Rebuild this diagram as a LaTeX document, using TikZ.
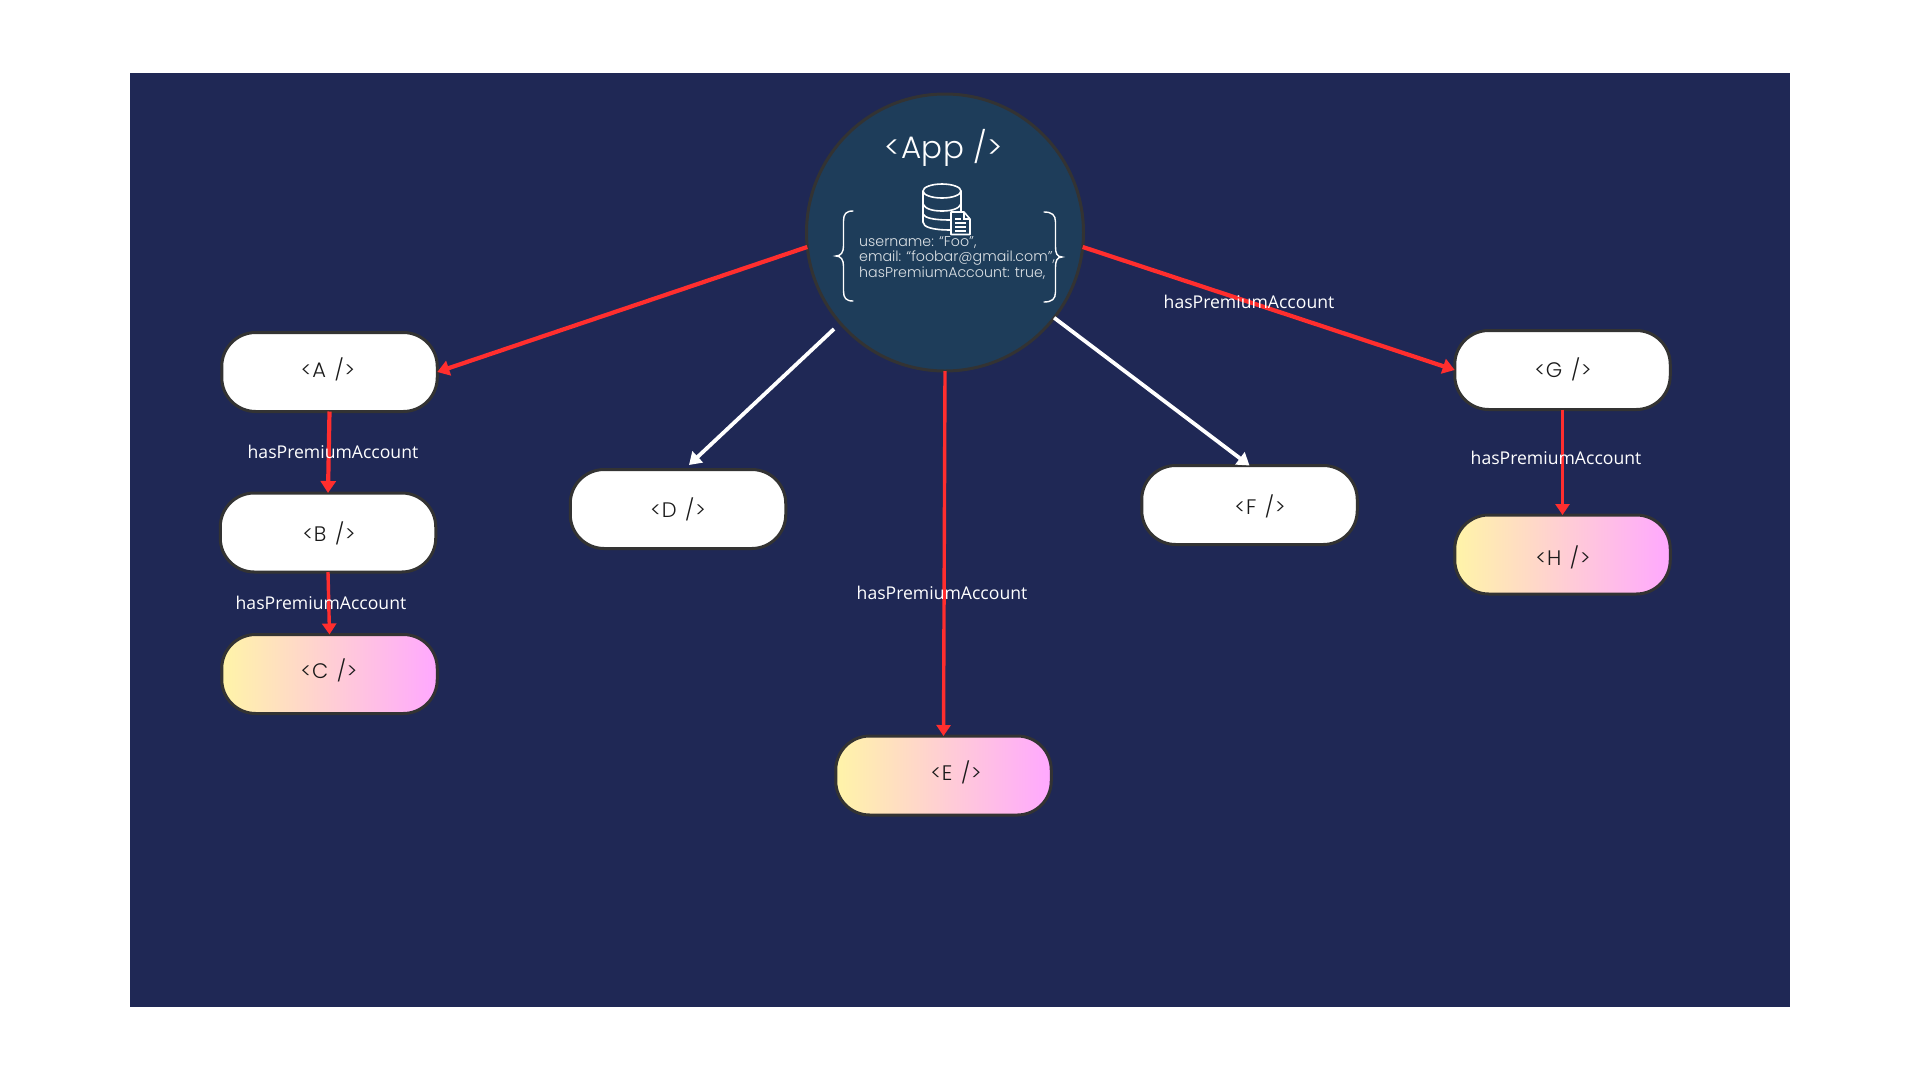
\documentclass[tikz,border=0pt]{standalone}
\usepackage{fontspec}
\setmainfont{Poppins Light}
\newfontfamily\pillfont[LetterSpace=4,WordSpace=1.3]{Poppins Light}
\newfontfamily\titlefont[LetterSpace=2]{Poppins Light}
\newfontfamily\labelfont{Open Sans}
\usetikzlibrary{arrows.meta}
\definecolor{bgnavy}{HTML}{1F2855}
\definecolor{appfill}{HTML}{1E3D5A}
\definecolor{edge}{HTML}{333333}
\definecolor{redline}{HTML}{FF2E2E}
\definecolor{gradl}{HTML}{FFF4A8}
\definecolor{gradr}{HTML}{FFA8FF}
\definecolor{inktext}{HTML}{1A1A1A}
\tikzset{
  pillbox/.style={rectangle,rounded corners=34pt,draw=edge,line width=3pt,minimum width=215.5pt,minimum height=79pt,inner sep=0pt,outer sep=0pt},
  whitepill/.style={pillbox,fill=white},
  gradpill/.style={pillbox,left color=gradl,right color=gradr},
  pilltext/.style={font=\pillfont\fontsize{21}{24}\selectfont,text=inktext,inner sep=0pt},
  edgelabel/.style={font=\labelfont\fontsize{17.6}{20}\selectfont,text=white,inner sep=0pt},
  redarrow/.style={draw=redline,line width=4.2pt,-{Triangle[length=12pt,width=15pt]}},
  redthin/.style={draw=redline,line width=3.4pt,-{Triangle[length=11pt,width=14pt]}},
  whitearrow/.style={draw=white,line width=3.8pt,-{Triangle[length=12pt,width=15pt]}},
  iconline/.style={draw=white,line width=1.6pt},
  bracket/.style={draw=white,line width=1.4pt,line cap=round},
  bodytext/.style={font=\fontsize{14.2}{15}\selectfont,text=white!85!appfill,inner sep=0pt,anchor=west},
}
\begin{document}
\begin{tikzpicture}[x=1pt,y=-1pt]
\useasboundingbox (0,0) rectangle (1920,1080);
\fill[white] (0,0) rectangle (1920,1080);
\fill[bgnavy] (130,73) rectangle (1790,1007);

\node[circle,draw=edge,fill=appfill,line width=3pt,minimum size=277pt,inner sep=0pt,outer sep=0pt] (App) at (945,232.5) {};
\node[whitepill] (A) at (329.5,372) {};
\node[whitepill] (B) at (328,532.5) {};
\node[gradpill] (C) at (329.5,674) {};
\node[whitepill] (D) at (678,509) {};
\node[gradpill] (E) at (943.5,775.5) {};
\node[whitepill] (F) at (1249.5,505) {};
\node[whitepill] (G) at (1562.5,370) {};
\node[gradpill] (H) at (1562.5,554.5) {};

\node[pilltext] (At) at (328,369) {<A />};
\node[pilltext] (Bt) at (329,533) {<B />};
\node[pilltext] (Ct) at (329,670) {<C />};
\node[pilltext] (Dt) at (678,509) {<D />};
\node[pilltext] (Et) at (956,772) {<E />};
\node[pilltext] (Ft) at (1260,506) {<F />};
\node[pilltext] (Gt) at (1563,369) {<G />};
\node[pilltext] (Ht) at (1563,557) {<H />};

\coordinate (dstart) at (834,329);
\coordinate (dtip) at (689,465);

\draw[redarrow] (App.186.4) -- (A.east);
\draw[redarrow] (App.-6.4) -- (G.west);
\draw[redthin] (App.south) -- (E.north);
\draw[whitearrow] (dstart) -- (dtip);
\draw[whitearrow] (App.-38) -- (F.north);
\draw[redarrow] (A.south) -- (B.north);
\draw[redthin] (B.south) -- (C.north);
\draw[redthin] (G.south) -- (H.north);

\node[edgelabel] (l1) at (333,452) {hasPremiumAccount};
\node[edgelabel] (l2) at (321,603) {hasPremiumAccount};
\node[edgelabel] (l3) at (942,593) {hasPremiumAccount};
\node[edgelabel] (l4) at (1249,302) {hasPremiumAccount};
\node[edgelabel] (l5) at (1556,458) {hasPremiumAccount};

\node[font=\titlefont\fontsize{31}{34}\selectfont,text=white,inner sep=0pt] (apptitle) at (944,148) {<App />};
\node[bodytext] (t1) at (859,243) {username: “Foo”,};
\node[bodytext] (t2) at (859,258) {email: “foobar@gmail.com”,};
\node[bodytext] (t3) at (859,273) {hasPremiumAccount: true,};

% braces
\draw[bracket] (853,211) .. controls (846,211) and (843.5,214) .. (843.5,221) -- (843.5,246) .. controls (843.5,252) and (841,256) .. (836,256) .. controls (841,256) and (843.5,260) .. (843.5,266) -- (843.5,291) .. controls (843.5,298) and (846,301) .. (853,301);
\draw[bracket] (1044,212) .. controls (1052,212) and (1055.5,215) .. (1055.5,222) -- (1055.5,247) .. controls (1055.5,253) and (1057,257) .. (1062,257) .. controls (1057,257) and (1055.5,261) .. (1055.5,267) -- (1055.5,292) .. controls (1055.5,299) and (1052,302) .. (1044,302);

% database icon
\draw[iconline] (942,191) ellipse (19 and 7);
\draw[iconline] (923,191) -- (923,222) .. controls (923,227) and (932,230) .. (951,230);
\draw[iconline] (961,191) -- (961,212);
\draw[iconline] (923,204) .. controls (925,209) and (933,211) .. (942,211) .. controls (951,211) and (959,209) .. (961,204);
\draw[iconline] (923,214) .. controls (925,218) and (933,220) .. (951,220);
\draw[iconline,fill=appfill,line join=round] (951,212) -- (964,212) -- (970,219) -- (970,234.5) -- (951,234.5) -- cycle;
\draw[iconline,line width=1.2pt] (964,212) -- (964,219) -- (970,219);
\draw[iconline,line width=1.3pt] (955,219) -- (961,219);
\draw[iconline,line width=1.3pt] (955,223) -- (966,223);
\draw[iconline,line width=1.3pt] (955,227) -- (966,227);
\draw[iconline,line width=1.3pt] (955,231) -- (966,231);
\end{tikzpicture}
\end{document}
